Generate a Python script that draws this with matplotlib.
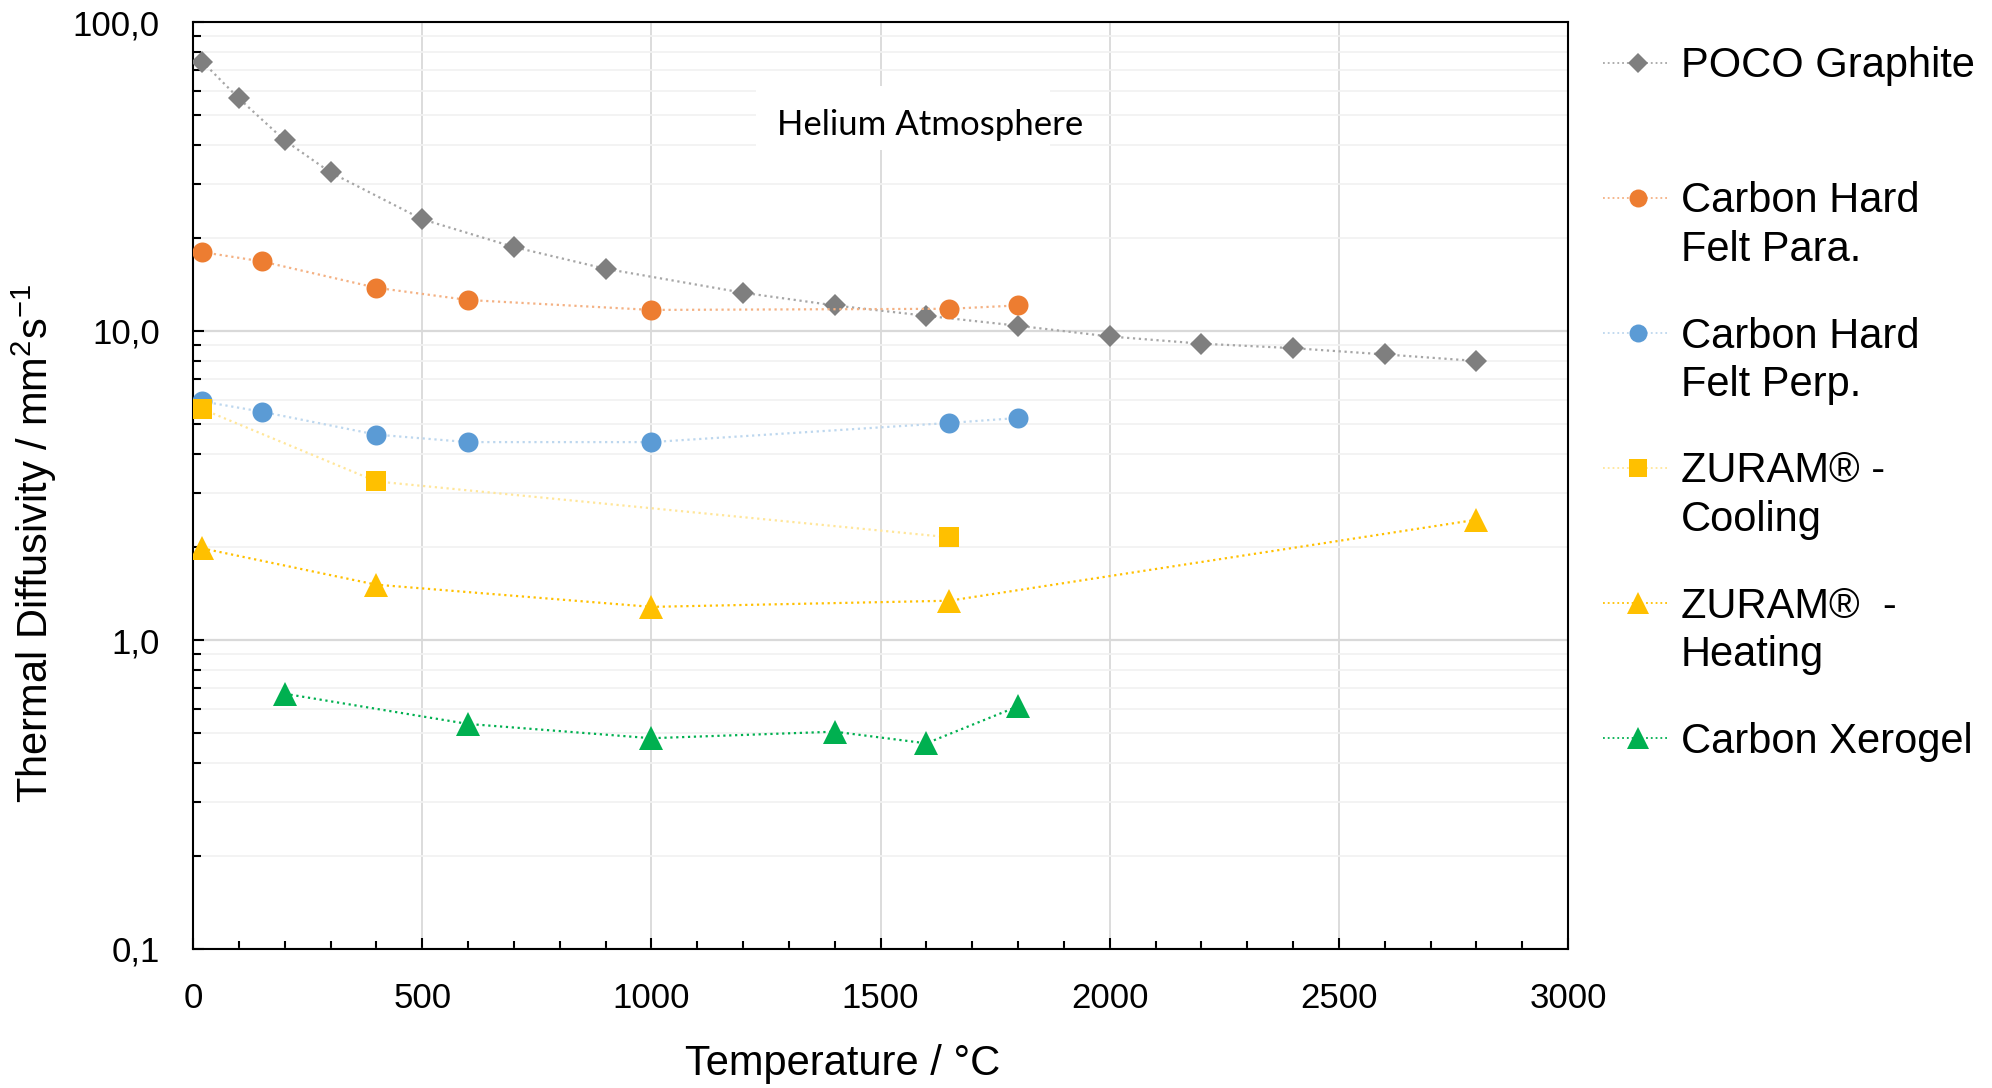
import matplotlib
matplotlib.use("Agg")
import matplotlib.pyplot as plt
from matplotlib.lines import Line2D
from matplotlib.patches import Rectangle
from matplotlib.ticker import LogLocator, MultipleLocator, FuncFormatter, NullFormatter

plt.rcParams['font.family'] = ['Liberation Sans', 'DejaVu Sans']
plt.rcParams['mathtext.default'] = 'regular'

# Messwerte: Temperatur in °C, Temperaturleitfähigkeit in mm²/s
poco_t = [20, 100, 200, 300, 500, 700, 900, 1200, 1400, 1600, 1800, 2000, 2200, 2400, 2600, 2800]
poco_a = [74.5, 56.6, 41.4, 32.6, 23.0, 18.7, 15.9, 13.3, 12.1, 11.2, 10.4, 9.6, 9.1, 8.8, 8.4, 8.0]

para_t = [20, 150, 400, 600, 1000, 1650, 1800]
para_a = [18.0, 16.8, 13.8, 12.6, 11.7, 11.8, 12.1]

perp_t = [20, 150, 400, 600, 1000, 1650, 1800]
perp_a = [5.92, 5.48, 4.62, 4.37, 4.37, 5.04, 5.23]

zuram_cool_t = [20, 400, 1650]
zuram_cool_a = [5.59, 3.26, 2.15]

zuram_heat_t = [20, 400, 1000, 1650, 2800]
zuram_heat_a = [1.98, 1.51, 1.28, 1.34, 2.45]

xerogel_t = [200, 600, 1000, 1400, 1600, 1800]
xerogel_a = [0.67, 0.535, 0.481, 0.505, 0.463, 0.61]

labels = ["POCO Graphite", "Carbon Hard\nFelt Para.", "Carbon Hard\nFelt Perp.",
          "ZURAM® -\nCooling", "ZURAM®  -\nHeating", "Carbon Xerogel"]

# (Marker, Markerfarbe, Linienfarbe, Markergröße)
styles = [
    ('D', '#7F7F7F', '#A6A6A6', 11.5),
    ('o', '#ED7D31', '#F4B183', 14.4),
    ('o', '#5B9BD5', '#BDD7EE', 14.4),
    ('s', '#FFC000', '#FFE699', 14.5),
    ('^', '#FFC000', '#FFC000', 17),
    ('^', '#00B050', '#00B050', 17),
]
series = [(poco_t, poco_a), (para_t, para_a), (perp_t, perp_a),
          (zuram_cool_t, zuram_cool_a), (zuram_heat_t, zuram_heat_a),
          (xerogel_t, xerogel_a)]

W, H = 1992, 1088
fig = plt.figure(figsize=(W / 100, H / 100), dpi=100)
ax = fig.add_axes([193 / W, 1 - 949 / H, (1568 - 193) / W, (949 - 22) / H])

for (t, a), (m, mc, lc, ms) in zip(series, styles):
    ax.plot(t, a, linestyle=':', linewidth=1.6, color=lc, marker=m, markersize=ms,
            markerfacecolor=mc, markeredgecolor=mc, markeredgewidth=0, zorder=3)

ax.set_yscale('log')
ax.set_ylim(0.1, 100)
ax.set_xlim(0, 3000)

ax.yaxis.set_major_locator(LogLocator(base=10))
ax.yaxis.set_minor_locator(LogLocator(base=10, subs=range(2, 10)))
ax.yaxis.set_major_formatter(FuncFormatter(lambda v, p: f"{v:.1f}".replace('.', ',')))
ax.yaxis.set_minor_formatter(NullFormatter())
ax.xaxis.set_major_locator(MultipleLocator(500))
ax.xaxis.set_minor_locator(MultipleLocator(100))

ax.set_axisbelow(True)
ax.grid(which='major', axis='y', color='#D9D9D9', linewidth=1.6)
ax.grid(which='minor', axis='y', color='#F2F2F2', linewidth=1.3)
ax.grid(which='major', axis='x', color='#D9D9D9', linewidth=1.3)

ax.tick_params(which='both', direction='in', top=False, right=False, width=1.5, colors='black')
ax.tick_params(which='major', length=8, labelsize=25, pad=24)
ax.tick_params(which='minor', length=6)
for sp in ax.spines.values():
    sp.set_linewidth(1.5)
    sp.set_color('black')

ax.set_xlabel('Temperature / °C', fontsize=30)
ax.xaxis.set_label_coords(0.4727, -0.103)
ax.set_ylabel('Thermal Diffusivity / mm$^{2}$s$^{-1}$', fontsize=30)
ax.yaxis.set_label_coords(-0.0975, 0.437)

# Hinweis zur Messatmosphäre
ax.add_patch(Rectangle((0.4095, 0.862), 0.2135, 0.069, transform=ax.transAxes,
                       facecolor='white', edgecolor='none', zorder=1.5))
ax.text(0.425, 0.889, 'Helium Atmosphere', transform=ax.transAxes, fontsize=25,
        family=['Lato', 'DejaVu Sans'], va='center', ha='left', zorder=2)

# Legende rechts neben dem Diagramm
for i, (lab, (m, mc, lc, ms)) in enumerate(zip(labels, styles)):
    yc = 63 + 135 * i
    fy = 1 - yc / H
    fig.add_artist(Line2D([1603 / W, 1670 / W], [fy, fy], transform=fig.transFigure,
                          linestyle=':', linewidth=1.3, color=lc))
    fig.add_artist(Line2D([1638 / W], [fy], transform=fig.transFigure, marker=m,
                          markersize=ms * 0.9, markerfacecolor=mc, markeredgewidth=0,
                          linestyle='none'))
    for j, line in enumerate(lab.split('\n')):
        fig.text(1681 / W, 1 - (yc + 14.5 + 48.5 * j) / H, line, fontsize=30,
                 va='baseline', ha='left')

fig.savefig('out.png', dpi=100)
